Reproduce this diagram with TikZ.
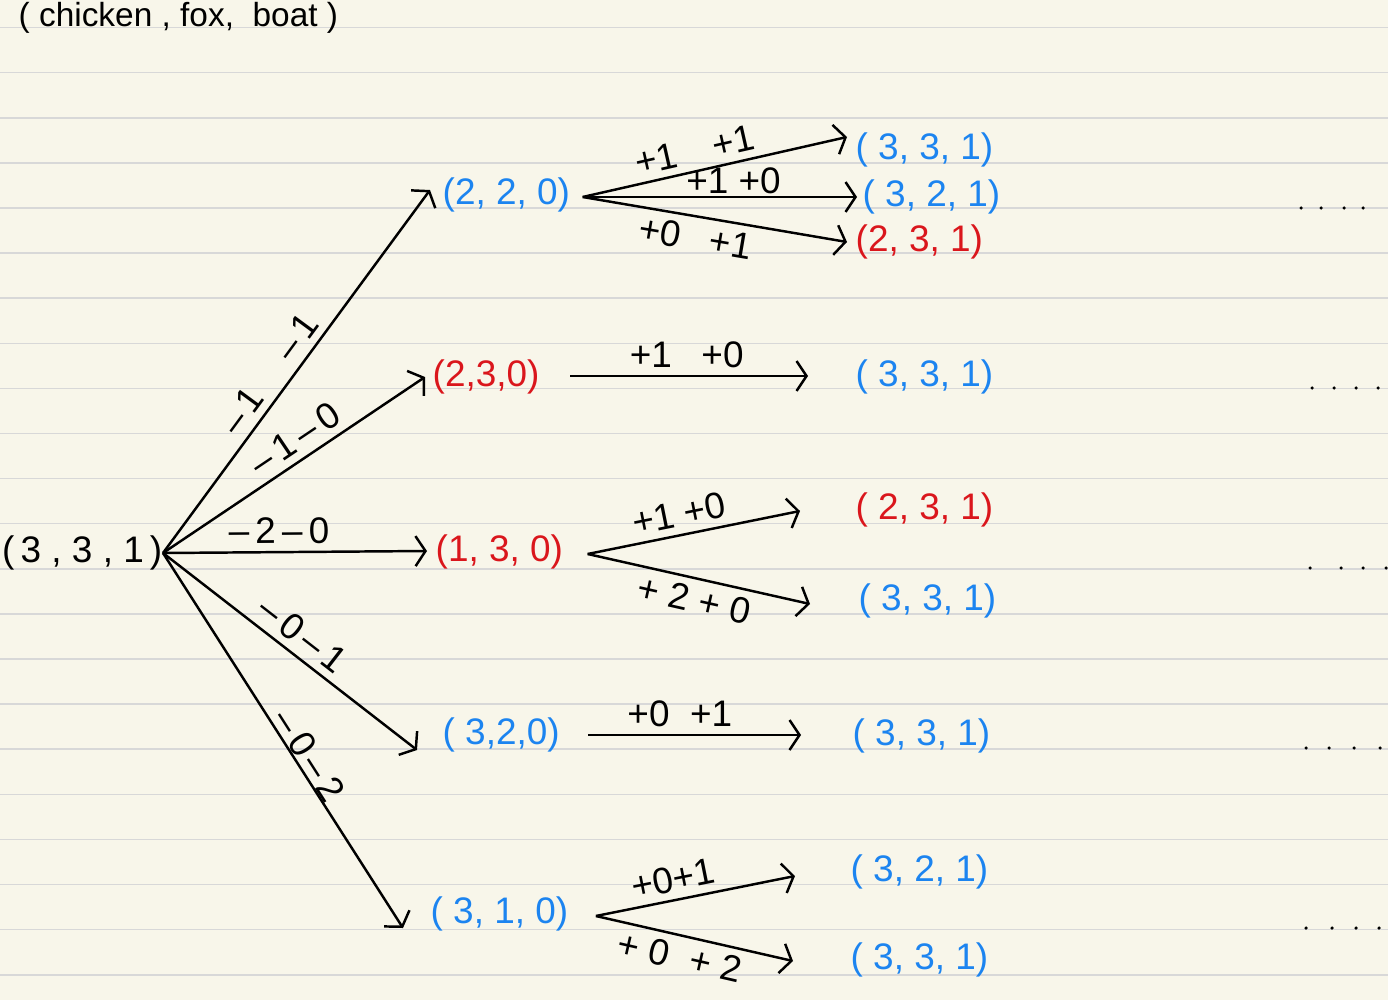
\documentclass[tikz,border=0pt]{standalone}
\usepackage{fontspec}
\setmainfont{Liberation Sans}
\usetikzlibrary{arrows.meta}

\definecolor{paper}{RGB}{248,246,234}
\definecolor{rule}{RGB}{216,216,216}
\definecolor{inkblue}{RGB}{28,132,240}
\definecolor{inkred}{RGB}{218,22,28}

\begin{document}
\begin{tikzpicture}
  [x=0.01cm,y=-0.01cm,
   every node/.style={inner sep=0pt,font=\fontsize{10.5}{12}\selectfont},
   state/.style={anchor=west},
   ok/.style={text=inkblue},
   bad/.style={text=inkred},
   move/.style={-{Straight Barb[length=1mm,width=3mm]},line width=0.7pt},
   lab/.style={sloped,inner sep=2pt}]
  \fill[paper] (0,0) rectangle (1388,1000);
  \useasboundingbox (0,0) rectangle (1388,1000);
  % ruled paper
  \foreach \k in {0,...,21}
    \draw[rule,line width=0.45pt] (0,{27.6+45.1*\k}) -- (1388,{27.6+45.1*\k});

  \node[anchor=west,font=\fontsize{9.5}{11}\selectfont] (title) at (18,18) {( chicken , fox,\ \ boat )};

  % start and first crossing
  \node[anchor=east] (root) at (163,553) {(\,3 , 3 , 1\,)};
  \node[state,ok]  (n220) at (442,195) {(2, 2, 0)};
  \node[state,bad] (n230) at (432,377) {(2,3,0)};
  \node[state,bad] (n130) at (435,552) {(1, 3, 0)};
  \node[state,ok]  (n320) at (442,735) {( 3,2,0)};
  \node[state,ok]  (n310) at (430,914) {( 3, 1, 0)};

  % second crossing
  \node[state,ok]  (a331) at (855,150) {( 3, 3, 1)};
  \node[state,ok]  (a321) at (862,197) {( 3, 2, 1)};
  \node[state,bad] (a231) at (855,242) {(2, 3, 1)};
  \node[state,ok]  (b331) at (855,377) {( 3, 3, 1)};
  \node[state,bad] (c231) at (855,510) {( 2, 3, 1)};
  \node[state,ok]  (c331) at (858,601) {( 3, 3, 1)};
  \node[state,ok]  (d331) at (852,736) {( 3, 3, 1)};
  \node[state,ok]  (e321) at (850,872) {( 3, 2, 1)};
  \node[state,ok]  (e331) at (850,960) {( 3, 3, 1)};

  \draw[move] (root.east) -- ([shift={(-12,-5)}]n220.west)
    node[lab,above,pos=0.46] {--\,1\hspace{1.2em}--\,1};
  \draw[move] (root.east) -- ([shift={(-7,0)}]n230.west)
    node[lab,above,pos=0.55] {--\,1\,--\,0};
  \draw[move] (root.east) -- ([shift={(-8,-1)}]n130.west)
    node[lab,above,pos=0.44] {--\,2\,--\,0};
  \draw[move] (root.east) -- ([shift={(-25,15)}]n320.west)
    node[lab,above,pos=0.5] {--\,0\,--\,1};
  \draw[move] (root.east) -- ([shift={(-27,14)}]n310.west)
    node[lab,above,pos=0.56,inner sep=0pt] {--\,0\,--\,2};

  \draw[move] ([shift={(12,2)}]n220.east) -- ([shift={(-8,-13)}]a331.west)
    node[lab,above,pos=0.44] {+1\hspace{1em}+1};
  \draw[move] ([shift={(12,2)}]n220.east) -- ([shift={(-5,0)}]a321.west)
    node[lab,above,pos=0.55,inner sep=0.5pt] {+1 +0};
  \draw[move] ([shift={(12,2)}]n220.east) -- ([shift={(-8,0)}]a231.west)
    node[lab,below,pos=0.44] {+0\hspace{0.8em}+1};
  \draw[move] ([shift={(30,-1)}]n230.east) -- ([shift={(-47,-1)}]b331.west)
    node[lab,above,pos=0.49] {+1\hspace{0.8em}+0};
  \draw[move] ([shift={(24,2)}]n130.east) -- ([shift={(-55,1)}]c231.west)
    node[lab,above,pos=0.45] {+1 +0};
  \draw[move] ([shift={(24,2)}]n130.east) -- ([shift={(-48,3)}]c331.west)
    node[lab,below,pos=0.5] {+ 2 + 0};
  \draw[move] ([shift={(28,0)}]n320.east) -- ([shift={(-51,-1)}]d331.west)
    node[lab,above,pos=0.43] {+0 \ +1};
  \draw[move] ([shift={(27,2)}]n310.east) -- ([shift={(-55,4)}]e321.west)
    node[lab,above,pos=0.41] {+0+1};
  \draw[move] ([shift={(27,2)}]n310.east) -- ([shift={(-57,1)}]e331.west)
    node[lab,below,pos=0.45] {+ 0 \ + 2};

  % more to come
  \foreach \y/\xa/\xb/\xc/\xd in {208/1301/1321/1344/1363,388/1312/1334/1356/1378,
      568/1310/1341/1363/1386,748/1306/1329/1354/1380,928/1306/1332/1356/1379}
    \foreach \x in {\xa,\xb,\xc,\xd}
      \fill (\x,\y) circle[radius=0.5pt];
\end{tikzpicture}
\end{document}
